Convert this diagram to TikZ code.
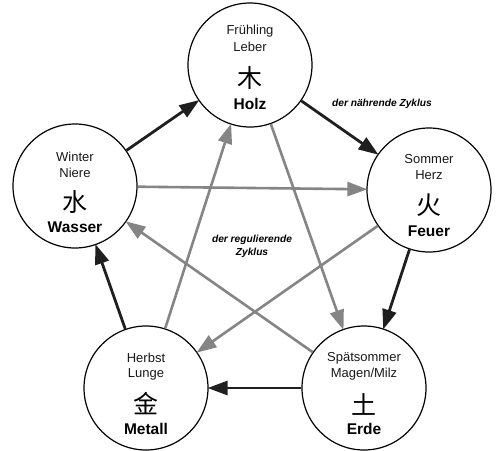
\documentclass[tikz,border=0pt]{standalone}
\usepackage{fontspec}
\setmainfont{Liberation Sans}
\newfontfamily\cjk{Noto Sans CJK SC}
\usetikzlibrary{arrows.meta}
\begin{document}
\begin{tikzpicture}[x=1pt,y=-1pt,
  elem/.style={circle,draw=black,line width=1.2pt,fill=white,minimum size=124pt,inner sep=0pt},
  sm/.style={font=\fontsize{13}{14}\selectfont,text=black!90,inner sep=0pt},
  cj/.style={font=\cjk\fontsize{25}{26}\selectfont,inner sep=0pt},
  bd/.style={font=\bfseries\fontsize{15.5}{16}\selectfont,inner sep=0pt},
  lab/.style={font=\bfseries\itshape\fontsize{10.2}{11}\selectfont,inner sep=0pt},
  outer/.style={draw=black!88,line width=2.8pt,-{Triangle[length=20pt,width=14pt]},shorten >=-1pt},
  inner/.style={draw=black!48,line width=2.6pt,-{Triangle[length=20pt,width=14pt]},shorten >=-1pt}]
\useasboundingbox (0,0) rectangle (500,450);
\fill[white] (0,0) rectangle (500,450);
\node[elem] (holz) at (250,65) {};
\node[elem] (feuer) at (429,190) {};
\node[elem] (erde) at (364,388) {};
\node[elem] (metall) at (146,388) {};
\node[elem] (wasser) at (75,186) {};
% cycles
\draw[outer] (holz) -- (feuer);
\draw[outer] (feuer) -- (erde);
\draw[outer] (erde) -- (metall);
\draw[outer] (metall) -- (wasser);
\draw[outer] (wasser) -- (holz);
\draw[inner] (holz) -- (erde);
\draw[inner] (erde) -- (wasser);
\draw[inner] (wasser) -- (feuer);
\draw[inner] (feuer) -- (metall);
\draw[inner] (metall) -- (holz);
% texts
\node[sm] (h1) at (250,31) {Frühling};
\node[sm] (h2) at (250,47) {Leber};
\node[cj] (h3) at (250,78) {木};
\node[bd] (h4) at (250,104) {Holz};
\node[sm] (f1) at (429,159) {Sommer};
\node[sm] (f2) at (429,175) {Herz};
\node[cj] (f3) at (429,205) {火};
\node[bd] (f4) at (429,231) {Feuer};
\node[sm] (e1) at (364,358) {Spätsommer};
\node[sm] (e2) at (364,374) {Magen/Milz};
\node[cj] (e3) at (364,404) {土};
\node[bd] (e4) at (364,429) {Erde};
\node[sm] (m1) at (146,358) {Herbst};
\node[sm] (m2) at (146,374) {Lunge};
\node[cj] (m3) at (146,404) {金};
\node[bd] (m4) at (146,429) {Metall};
\node[sm] (w1) at (75,157) {Winter};
\node[sm] (w2) at (75,173) {Niere};
\node[cj] (w3) at (75,202) {水};
\node[bd] (w4) at (75,227) {Wasser};
\node[lab] (l1) at (382,104) {der nährende Zyklus};
\node[lab] (l2) at (252,240) {der regulierende};
\node[lab] (l3) at (252,253) {Zyklus};
\end{tikzpicture}
\end{document}
